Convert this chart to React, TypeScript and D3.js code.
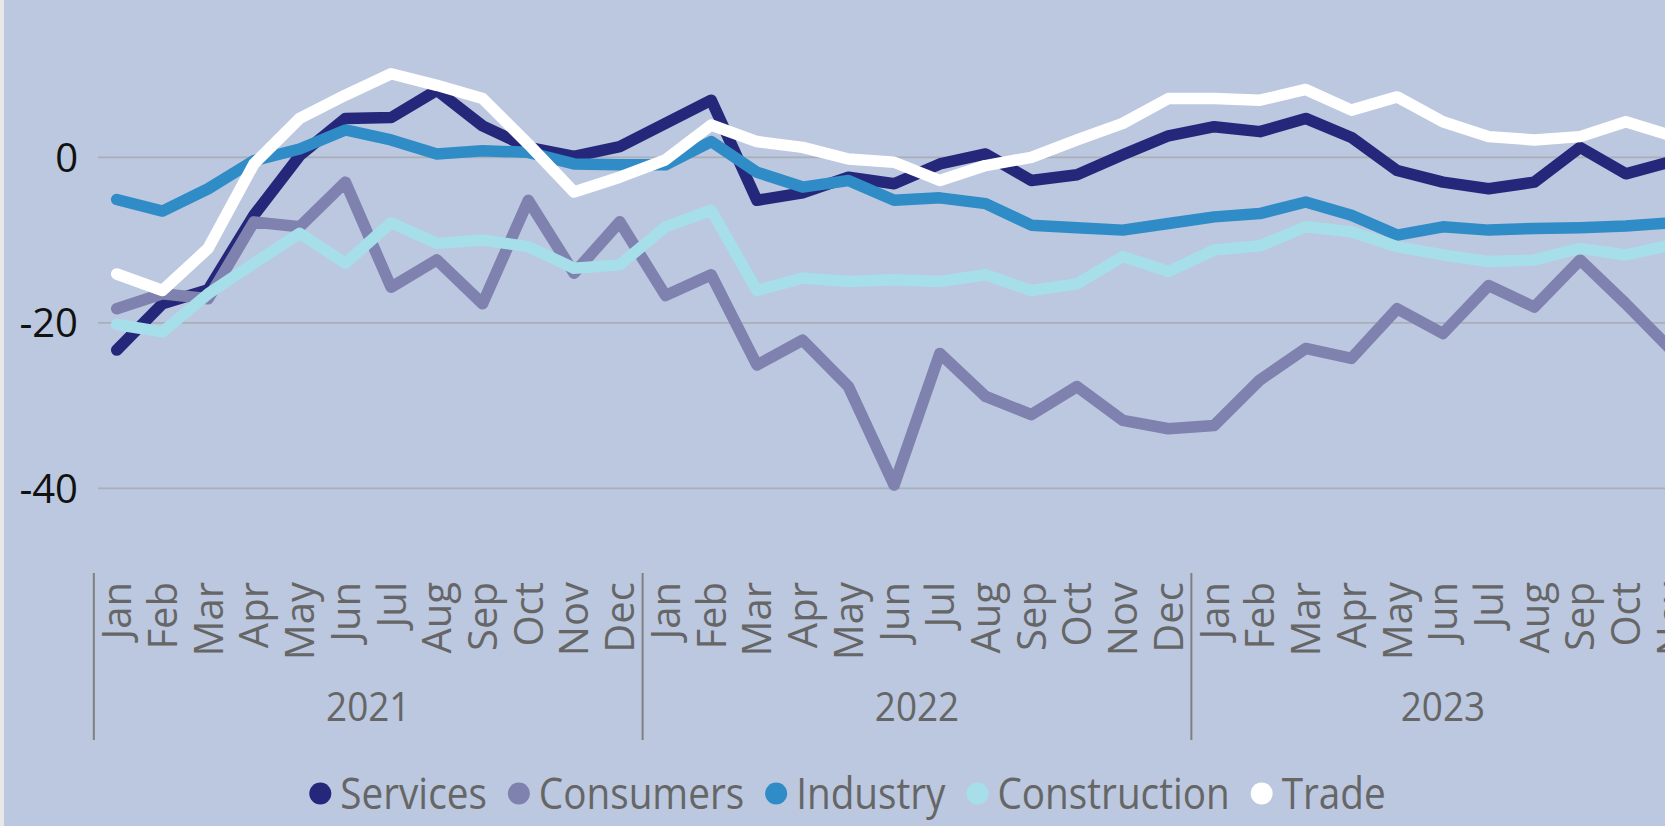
import React, { useEffect, useRef } from "react";
import * as d3 from "d3";

const monthNames = ["Jan", "Feb", "Mar", "Apr", "May", "Jun", "Jul", "Aug", "Sep", "Oct", "Nov", "Dec"];
const yearNames = ["2021", "2022", "2023"];
const yTicks = [-40, -20, 0];

const seriesNames = ["Services", "Consumers", "Industry", "Construction", "Trade"];
const seriesColors = ["#25287A", "#7F81AE", "#2F8CC6", "#A6DEEA", "#FFFFFF"];

const services = [
  -23.3, -17.7, -16.0, -7.0, 0.2, 4.7, 4.8, 8.1, 3.8, 1.2, 0.1, 1.3,
  4.1, 6.9, -5.2, -4.3, -2.4, -3.2, -0.8, 0.4, -2.8, -2.1, 0.3, 2.6,
  3.7, 3.1, 4.7, 2.4, -1.6, -3.0, -3.8, -3.0, 1.2, -2.0, -0.5,
];
const consumers = [
  -18.3, -16.5, -17.1, -7.8, -8.4, -3.0, -15.7, -12.4, -17.7, -5.2, -14.0, -7.8,
  -16.7, -14.2, -25.1, -22.1, -27.7, -39.6, -23.7, -28.9, -31.1, -27.7, -31.8, -32.8,
  -32.4, -26.9, -23.1, -24.3, -18.3, -21.3, -15.5, -18.1, -12.4, -17.7, -23.3,
];
const industry = [
  -5.1, -6.5, -3.8, -0.4, 1.0, 3.3, 2.1, 0.4, 0.8, 0.6, -0.8, -0.9,
  -0.9, 1.9, -1.8, -3.6, -2.8, -5.2, -4.9, -5.6, -8.2, -8.5, -8.8, -8.0,
  -7.2, -6.8, -5.4, -7.0, -9.4, -8.4, -8.8, -8.6, -8.5, -8.3, -7.9,
];
const construction = [
  -20.2, -21.1, -16.5, -12.8, -9.2, -12.8, -7.9, -10.4, -10.0, -10.8, -13.4, -13.0,
  -8.4, -6.4, -16.1, -14.6, -15.0, -14.8, -15.0, -14.2, -16.1, -15.3, -12.0, -13.8,
  -11.2, -10.7, -8.4, -9.0, -10.8, -11.8, -12.6, -12.4, -11.0, -11.8, -10.6,
];
const trade = [
  -14.1, -16.1, -11.0, -0.8, 4.7, 7.5, 10.1, 8.7, 7.1, 1.6, -4.2, -2.4,
  -0.3, 3.9, 1.9, 1.2, -0.2, -0.6, -2.8, -1.0, 0.0, 2.1, 4.1, 7.1,
  7.1, 6.9, 8.2, 5.7, 7.3, 4.3, 2.5, 2.1, 2.5, 4.3, 2.6,
];

const W = 1665;
const H = 826;
const FONT = "'Open Sans', 'Noto Sans', sans-serif";

export default function App() {
  const ref = useRef<SVGSVGElement | null>(null);

  useEffect(() => {
    const svg = d3.select(ref.current);
    svg.selectAll("*").remove();

    const allSeries = [services, consumers, industry, construction, trade];
    const n = services.length;
    const idx = d3.range(n);
    const periods = idx.map((i) => ({ year: yearNames[Math.floor(i / 12)], month: monthNames[i % 12] }));

    const step = 45.73;
    const left = 93.85;
    const x = d3.scaleBand<number>().domain(idx).range([left, left + n * step]).padding(0);
    const cx = (i: number) => (x(i) as number) + x.bandwidth() / 2;
    const y = d3.scaleLinear().domain([-40, 0]).range([488.3, 157.3]);

    svg.append("rect").attr("x", 0).attr("y", 0).attr("width", W).attr("height", H).attr("fill", "#E8E8E8");
    svg.append("rect").attr("x", 4).attr("y", 0).attr("width", W - 4).attr("height", H).attr("fill", "#BBC8DF");

    // gridlines
    svg.append("g")
      .selectAll("line")
      .data(yTicks)
      .join("line")
      .attr("x1", 98)
      .attr("x2", W)
      .attr("y1", (d) => y(d))
      .attr("y2", (d) => y(d))
      .attr("stroke", "#A9AEB8")
      .attr("stroke-width", 1.8);

    // y labels
    svg.append("g")
      .selectAll("text")
      .data(yTicks)
      .join("text")
      .attr("x", 78)
      .attr("y", (d) => y(d))
      .attr("dy", "0.36em")
      .attr("text-anchor", "end")
      .attr("font-family", FONT)
      .attr("font-size", 40)
      .attr("fill", "#111")
      .text((d) => String(d));

    // lines
    const line = d3.line<number>().x((_, i) => cx(i)).y((d) => y(d));
    svg.append("g")
      .selectAll("path")
      .data(allSeries)
      .join("path")
      .attr("d", (d) => line(d) as string)
      .attr("fill", "none")
      .attr("stroke", (_, i) => seriesColors[i])
      .attr("stroke-width", 11.5)
      .attr("stroke-linejoin", "round")
      .attr("stroke-linecap", "round");

    // month labels
    svg.append("g")
      .selectAll("text")
      .data(periods)
      .join("text")
      .attr("transform", (_, i) => `translate(${cx(i)},582) rotate(-90)`)
      .attr("dy", "0.36em")
      .attr("text-anchor", "end")
      .attr("font-family", FONT)
      .attr("font-size", 40)
      .attr("fill", "#666")
      .text((d) => d.month);

    // year groups
    const groups = yearNames.map((yr) => {
      const members = idx.filter((i) => periods[i].year === yr);
      const start = x(members[0]) as number;
      const end = (x(members[members.length - 1]) as number) + x.bandwidth();
      return { yr, start, end };
    });
    svg.append("g")
      .selectAll("line")
      .data(groups)
      .join("line")
      .attr("x1", (d) => d.start)
      .attr("x2", (d) => d.start)
      .attr("y1", 573)
      .attr("y2", 740)
      .attr("stroke", "#808080")
      .attr("stroke-width", 2);
    svg.append("g")
      .selectAll("text")
      .data(groups)
      .join("text")
      .attr("transform", (d) => `translate(${(d.start + d.end) / 2},721) scale(0.9,1)`)
      .attr("text-anchor", "middle")
      .attr("font-family", FONT)
      .attr("font-size", 41)
      .attr("fill", "#666")
      .text((d) => d.yr);

    // legend
    const lg = svg.append("g");
    const r = 11;
    const gapText = 9;
    const gapItem = 21;
    const sx = 0.9;
    const items = seriesNames.map((name, i) => {
      const g = lg.append("g");
      g.append("circle").attr("cx", r).attr("cy", 0).attr("r", r).attr("fill", seriesColors[i]);
      const t = g.append("text")
        .attr("transform", `translate(${2 * r + gapText},0) scale(${sx},1)`)
        .attr("dy", "0.36em")
        .attr("font-family", FONT)
        .attr("font-size", 43)
        .attr("fill", "#666")
        .text(name);
      const tw = (t.node() as SVGTextElement).getComputedTextLength() * sx;
      return { g, w: 2 * r + gapText + tw };
    });
    const total = d3.sum(items, (d) => d.w) + gapItem * (items.length - 1);
    let px = 847.5 - total / 2;
    items.forEach((it) => {
      it.g.attr("transform", `translate(${px},793.5)`);
      px += it.w + gapItem;
    });
  }, []);

  return (
    <div style={{ position: "fixed", left: 0, top: 0, width: W, height: H, overflow: "hidden" }}>
      <svg ref={ref} width={W} height={H} style={{ display: "block" }} />
    </div>
  );
}
